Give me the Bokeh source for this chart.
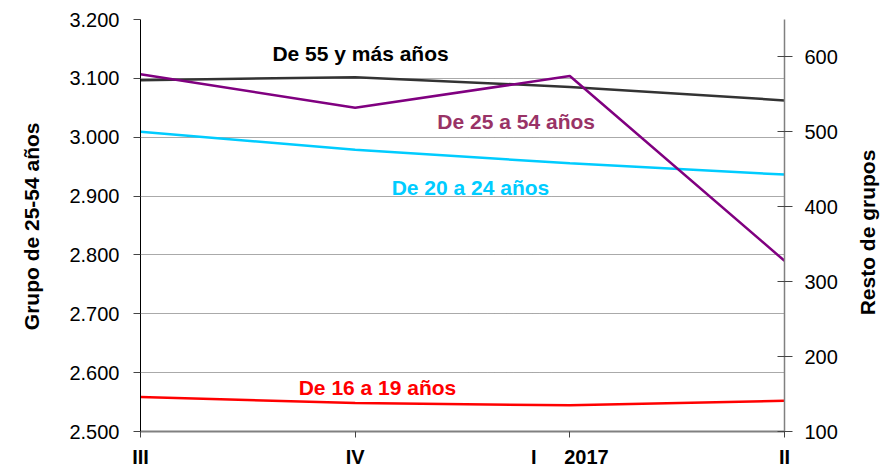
import math
from bokeh.plotting import figure
from bokeh.layouts import row
from bokeh.models import Range1d, LinearAxis, FixedTicker, Label
from bokeh.embed import file_html
from bokeh.resources import INLINE

# ---- data ----
quarters = [0, 1, 2, 3]
quarter_labels = ["III", "IV", "I\u00a0\u00a0\u00a0\u00a0 2017", "II"]
grupo_25_54 = [3107, 3050, 3104, 2790]      # left axis
de_55_mas = [569, 573, 560, 542]            # right axis
de_20_24 = [500, 476, 458, 443]             # right axis
de_16_19 = [146, 138, 135, 141]             # right axis

left_ticks = [2500, 2600, 2700, 2800, 2900, 3000, 3100, 3200]
left_tick_labels = ["2.500", "2.600", "2.700", "2.800", "2.900", "3.000", "3.100", "3.200"]
right_ticks = [100, 200, 300, 400, 500, 600]
right_tick_labels = ["100", "200", "300", "400", "500", "600"]

left_title = "Grupo de 25-54 años"
right_title = "Resto de grupos"

FONT = "Liberation Sans"

p = figure(width=808, height=470, output_backend="svg", toolbar_location=None,
           x_range=Range1d(0, 3), y_range=Range1d(2500, 3200),
           min_border_left=96, min_border_right=68, min_border_top=19, min_border_bottom=38)
p.extra_y_ranges = {"right": Range1d(100, 650)}
p.outline_line_color = None
p.background_fill_color = "white"
p.border_fill_color = "white"

# x axis
xa = p.xaxis[0]
xa.ticker = FixedTicker(ticks=quarters)
xa.major_label_overrides = {q: l for q, l in zip(quarters, quarter_labels)}
xa.major_label_text_font = FONT
xa.major_label_text_font_style = "bold"
xa.major_label_text_font_size = "20px"
xa.major_label_text_color = "black"
xa.major_label_standoff = 8
xa.major_tick_in = 0
xa.major_tick_out = 6
xa.major_tick_line_color = "#444444"
xa.minor_tick_line_color = None
xa.axis_line_color = "#808080"
xa.axis_line_width = 2

# left axis
ya = p.yaxis[0]
ya.ticker = FixedTicker(ticks=left_ticks)
ya.major_label_overrides = {t: l for t, l in zip(left_ticks, left_tick_labels)}
ya.major_label_text_font = FONT
ya.major_label_text_font_size = "20px"
ya.major_label_text_color = "black"
ya.major_label_standoff = 14
ya.major_tick_in = 0
ya.major_tick_out = 7
ya.major_tick_line_color = "#444444"
ya.minor_tick_line_color = None
ya.axis_line_color = "black"

# right axis
ra = LinearAxis(y_range_name="right", ticker=FixedTicker(ticks=right_ticks))
ra.major_label_overrides = {t: l for t, l in zip(right_ticks, right_tick_labels)}
ra.major_label_text_font = FONT
ra.major_label_text_font_size = "20px"
ra.major_label_text_color = "black"
ra.major_label_standoff = 12
ra.major_tick_in = 7
ra.major_tick_out = 8
ra.major_tick_line_color = "#444444"
ra.minor_tick_line_color = None
ra.axis_line_color = "#808080"
ra.axis_line_width = 1.5
p.add_layout(ra, "right")

# grid
p.xgrid.grid_line_color = None
p.ygrid.grid_line_color = "#555555"
p.ygrid.grid_line_dash = "1 1"
p.ygrid.grid_line_width = 1

# lines
p.line(quarters, de_55_mas, y_range_name="right", line_color="#333333", line_width=2.5)
p.line(quarters, de_20_24, y_range_name="right", line_color="#00CCFF", line_width=2.5)
p.line(quarters, de_16_19, y_range_name="right", line_color="#FF0000", line_width=2.5)
p.line(quarters, grupo_25_54, line_color="#800080", line_width=2.5)

# series labels (left-axis data coordinates)
series_labels = [
    ("De 55 y más años", 1.025, 3142, "black"),
    ("De 25 a 54 años", 1.75, 3027, "#993366"),
    ("De 20 a 24 años", 1.537, 2915, "#00CCFF"),
    ("De 16 a 19 años", 1.104, 2575, "#FF0000"),
]
for txt, lx, ly, col in series_labels:
    p.add_layout(Label(x=lx, y=ly, text=txt, text_align="center", text_baseline="middle",
                       text_font=FONT, text_font_style="bold", text_font_size="21px",
                       text_color=col))


def title_strip(width, text, lx, ly):
    """Narrow figure holding a rotated axis title (reads bottom-to-top)."""
    s = figure(width=width, height=470, output_backend="svg", toolbar_location=None,
               x_range=Range1d(0, 1), y_range=Range1d(0, 1),
               x_axis_type=None, y_axis_type=None,
               min_border_left=0, min_border_right=0, min_border_top=0, min_border_bottom=0)
    s.outline_line_color = None
    s.grid.grid_line_color = None
    s.add_layout(Label(x=lx, y=ly, text=text, angle=math.pi / 2,
                       text_align="center", text_baseline="middle",
                       text_font=FONT, text_font_style="bold", text_font_size="21px",
                       text_color="black"))
    return s


p_left = title_strip(44, left_title, 0.705, 0.498)
p_right = title_strip(30, right_title, 0.5, 0.483)

open("out.html", "w").write(file_html(row(p_left, p, p_right), INLINE))
